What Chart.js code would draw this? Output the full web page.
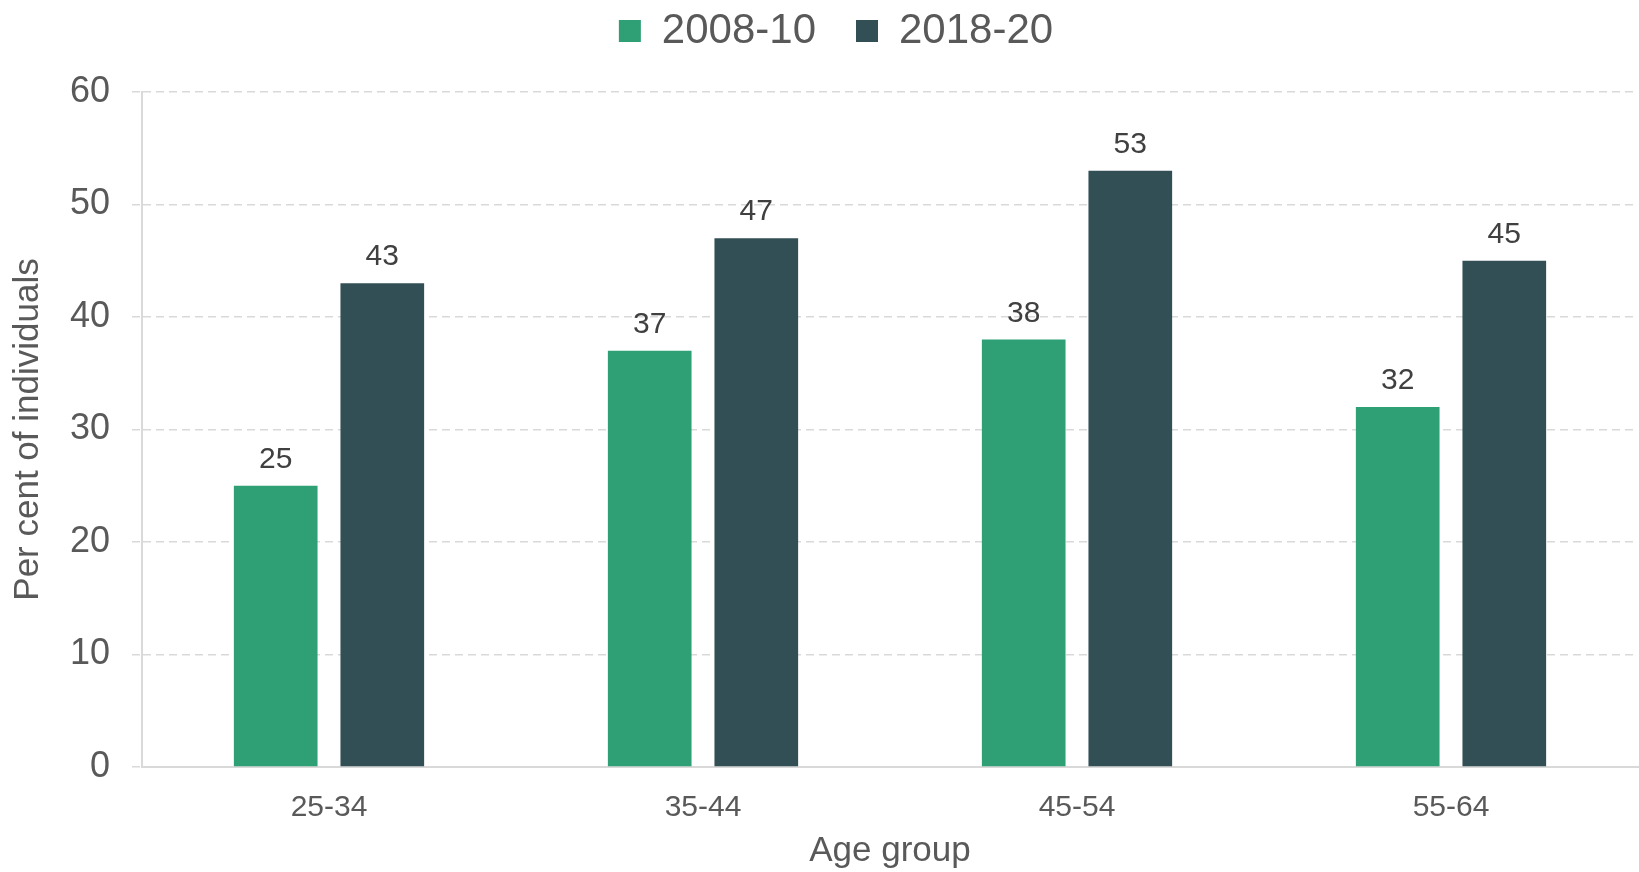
<!DOCTYPE html>
<html>
<head>
<meta charset="utf-8">
<script src="https://cdn.jsdelivr.net/npm/chart.js@4"></script>
<style>
  body { margin: 0; background: #fff; }
  #wrap { width: 1639px; height: 872px; position: relative; }
</style>
</head>
<body>
<div id="wrap"><canvas id="myChart"></canvas></div>
<script>
// age groups and the two periods
const ageGroups = ['25-34', '35-44', '45-54', '55-64'];
const period1 = [25, 37, 38, 32];   // 2008-10
const period2 = [43, 47, 53, 45];   // 2018-20
const yTicks = [0, 10, 20, 30, 40, 50, 60];

const FONT = '"Liberation Sans", Arial, sans-serif';
const GREY = '#595959';

// value labels above the bars
const barLabels = {
    id: 'barLabels',
    afterDatasetsDraw(chart) {
        const c = chart.ctx;
        c.save();
        c.font = '30px ' + FONT;
        c.fillStyle = '#404040';
        c.textAlign = 'center';
        c.textBaseline = 'alphabetic';
        chart.data.datasets.forEach((ds, i) => {
            chart.getDatasetMeta(i).data.forEach((bar, j) => {
                c.fillText(ds.data[j], bar.x, bar.y - 18);
            });
        });
        c.restore();
    }
};

// fixed legend height so the plot starts where it should,
// and nudge the row a little to the right
const legendHeight = {
    id: 'legendHeight',
    beforeInit(chart) {
        const fit = chart.legend.fit;
        chart.legend.fit = function () {
            fit.call(this);
            this.height = 122;
            if (this.lineWidths && this.lineWidths.length) this.lineWidths[0] -= 34;
        };
    }
};

const ctx = document.getElementById('myChart');
chart = new Chart(ctx, {
    type: 'bar',
    data: {
        labels: ageGroups,
        datasets: [{
            label: '2008-10',
            data: period1,
            backgroundColor: '#2f9f76',
            categoryPercentage: 0.57,
            barPercentage: 0.785,
        }, {
            label: '2018-20',
            data: period2,
            backgroundColor: '#324f55',
            categoryPercentage: 0.57,
            barPercentage: 0.785,
        }],
    },
    options: {
        responsive: true,
        maintainAspectRatio: false,
        animation: false,
        layout: { padding: { top: -30, right: 1, bottom: 0, left: 0 } },
        plugins: {
            tooltip: { enabled: false },
            legend: {
                position: 'top',
                labels: {
                    color: GREY,
                    font: { family: FONT, size: 42 },
                    boxWidth: 22,
                    boxHeight: 22,
                    padding: 40,
                },
            },
        },
        scales: {
            x: {
                grid: { display: false },
                border: { display: true, color: '#d9d9d9', width: 2 },
                ticks: {
                    color: GREY,
                    font: { family: FONT, size: 30 },
                    padding: 15,
                },
                title: {
                    display: true,
                    text: 'Age group',
                    color: GREY,
                    font: { family: FONT, size: 35 },
                    padding: { top: 0, bottom: 0 },
                },
                afterFit(scale) { scale.height = 105; },
            },
            y: {
                min: 0,
                max: 60,
                afterBuildTicks(scale) {
                    scale.ticks = yTicks.map(v => ({ value: v }));
                },
                grid: {
                    color: '#d9d9d9',
                    lineWidth: 1.5,
                    tickLength: 10,
                    tickBorderDash: [8, 5],
                },
                border: { display: true, color: '#d9d9d9', width: 2, dash: [8, 5] },
                ticks: {
                    color: GREY,
                    font: { family: FONT, size: 36 },
                    padding: 22,
                },
                title: {
                    display: true,
                    text: 'Per cent of individuals',
                    color: GREY,
                    font: { family: FONT, size: 35 },
                    padding: { top: 7, bottom: 0 },
                },
                afterFit(scale) { scale.width = 142; },
            },
        },
    },
    plugins: [barLabels, legendHeight],
});
</script>
</body>
</html>
